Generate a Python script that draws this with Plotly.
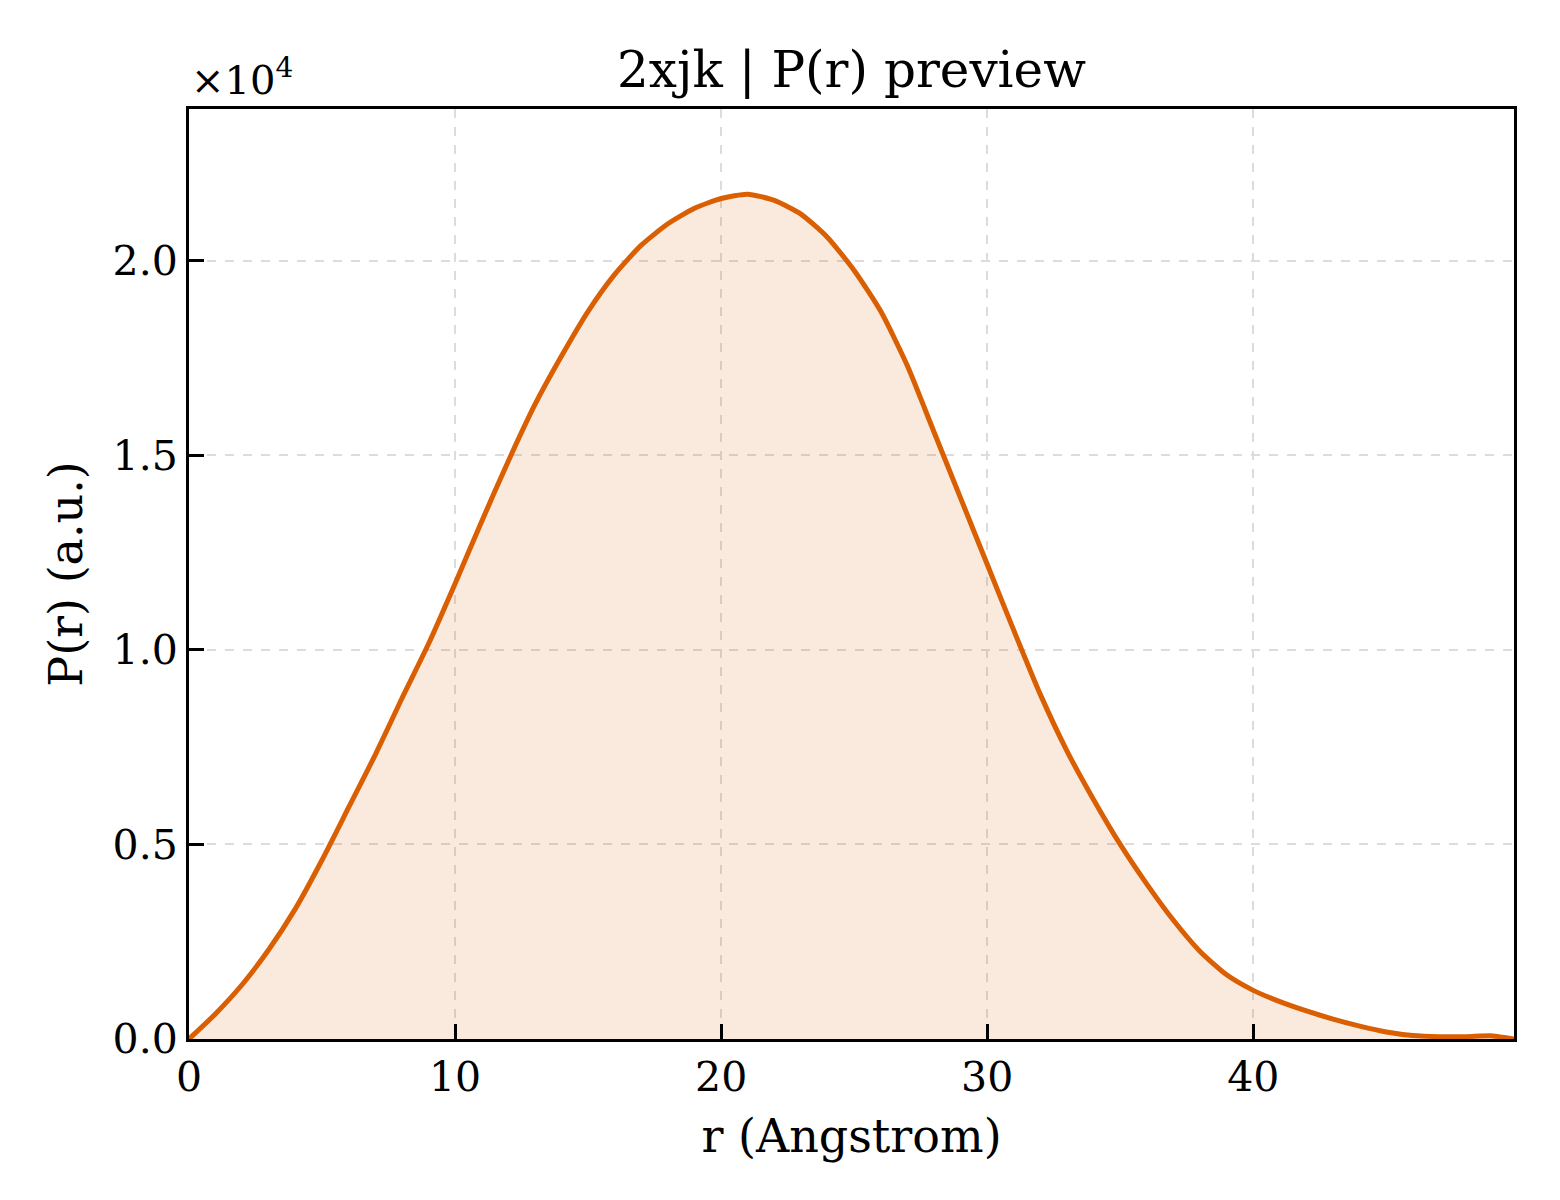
import plotly.graph_objects as go

# P(r) distance distribution (r in Angstrom, P in a.u.)
r_vals = [0, 1, 2, 3, 4, 5, 6, 7, 8, 9,
          10, 11, 12, 13, 14, 15, 16, 17, 18, 19,
          20, 21, 22, 23, 24, 25, 26, 27, 28, 29,
          30, 31, 32, 33, 34, 35, 36, 37, 38, 39,
          40, 41, 42, 43, 44, 45, 46, 47, 48, 49, 49.8]
p_vals = [0, 650, 1400, 2300, 3350, 4600, 5950, 7300, 8750, 10150,
          11700, 13300, 14850, 16300, 17550, 18700, 19650, 20400, 20950, 21350,
          21600, 21710, 21550, 21200, 20600, 19750, 18700, 17300, 15600, 13900,
          12200, 10500, 8850, 7400, 6150, 5000, 3980, 3050, 2250, 1650,
          1250, 960, 720, 510, 330, 180, 90, 60, 60, 80, 0]

scale = 1e4
x_ticks = [0, 10, 20, 30, 40]
y_ticks = [0.0, 0.5, 1.0, 1.5, 2.0]

line_color = "#D95F02"
font_family = "DejaVu Serif"

fig = go.Figure()
fig.add_trace(go.Scatter(
    x=r_vals,
    y=[p / scale for p in p_vals],
    mode="lines",
    line=dict(color=line_color, width=5, shape="spline", smoothing=0.6),
    fill="tozeroy",
    fillcolor="rgba(217,95,2,0.13)",
    showlegend=False,
))

axis_common = dict(
    showline=True, linecolor="black", linewidth=3, mirror=True,
    ticks="inside", ticklen=15, tickwidth=3, tickcolor="black",
    showgrid=True, gridcolor="#dcdcdc", gridwidth=1.5, griddash="dash",
    zeroline=False,
    tickfont=dict(family=font_family, size=41, color="black"),
)

fig.update_xaxes(
    range=[0, 49.8], tickvals=x_ticks,
    title=dict(text="r (Angstrom)", font=dict(family=font_family, size=46, color="black"), standoff=20),
    **axis_common,
)
fig.update_yaxes(
    range=[0, 2.39], tickvals=y_ticks, tickformat=".1f",
    title=dict(text="P(r) (a.u.)", font=dict(family=font_family, size=46, color="black"), standoff=16),
    **axis_common,
)

fig.add_annotation(
    text="×10<sup>4</sup>", xref="paper", yref="paper", x=0.0, y=1.0,
    xanchor="left", yanchor="bottom", yshift=4, showarrow=False,
    font=dict(family=font_family, size=40, color="black"),
)

fig.update_layout(
    width=1560, height=1200,
    margin=dict(l=181, r=54, t=101, b=169),
    paper_bgcolor="white", plot_bgcolor="white",
    title=dict(text="2xjk | P(r) preview", x=0.5, xref="paper",
               y=1 - 61 / 1200, yref="container", yanchor="middle",
               font=dict(family=font_family, size=50, color="black")),
)

fig.write_html("out.html")
